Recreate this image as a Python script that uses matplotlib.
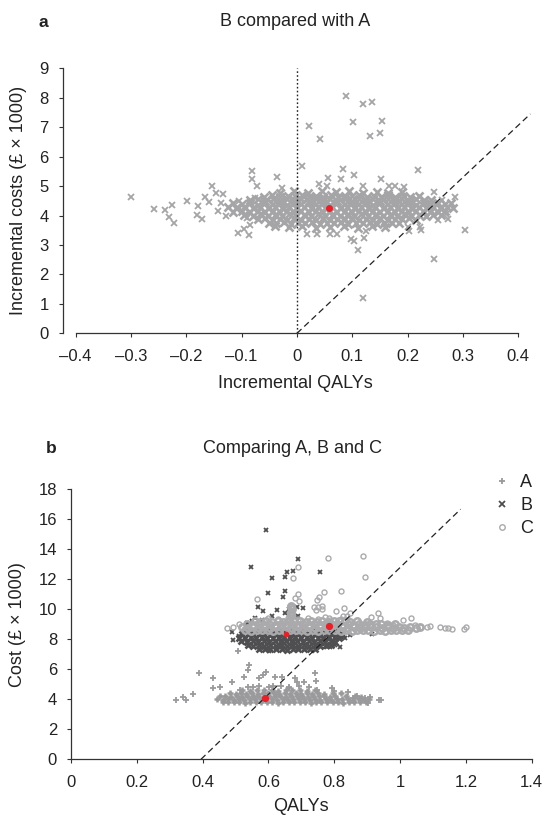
import numpy as np
import matplotlib
matplotlib.use("Agg")
import matplotlib.pyplot as plt

plt.rcParams["font.family"] = ["Liberation Sans", "DejaVu Sans"]

# ---- panel a: B compared with A (incremental QALYs, incremental cost in £1000)
# dense centre of the cloud
ba_core = [
    (-0.030, 4.78), (-0.005, 4.82), (0.020, 4.76), (0.045, 4.84), (0.070, 4.79), (0.095, 4.83),
    (0.120, 4.77), (0.145, 4.81), (0.165, 4.76), (0.190, 4.80),
    (-0.060, 4.64), (-0.045, 4.69), (-0.030, 4.62), (-0.017, 4.67), (-0.004, 4.65), (0.009, 4.70),
    (0.022, 4.63), (0.035, 4.68), (0.048, 4.64), (0.061, 4.69), (0.074, 4.62), (0.087, 4.67),
    (0.100, 4.65), (0.113, 4.70), (0.126, 4.63), (0.139, 4.68), (0.152, 4.64), (0.165, 4.69),
    (0.178, 4.62), (0.191, 4.67), (0.205, 4.64), (0.220, 4.66),
    (-0.085, 4.52), (-0.070, 4.56), (-0.057, 4.50), (-0.044, 4.55), (-0.031, 4.51), (-0.018, 4.57),
    (-0.005, 4.52), (0.008, 4.55), (0.021, 4.50), (0.034, 4.56), (0.047, 4.53), (0.060, 4.57),
    (0.073, 4.51), (0.086, 4.55), (0.099, 4.50), (0.112, 4.56), (0.125, 4.52), (0.138, 4.55),
    (0.151, 4.51), (0.164, 4.57), (0.177, 4.52), (0.190, 4.55), (0.203, 4.50), (0.216, 4.56),
    (0.229, 4.52), (0.242, 4.54),
    (-0.115, 4.41), (-0.100, 4.38), (-0.085, 4.43), (-0.070, 4.37), (-0.057, 4.42), (-0.044, 4.39),
    (-0.031, 4.43), (-0.018, 4.37), (-0.005, 4.41), (0.008, 4.38), (0.021, 4.43), (0.034, 4.39),
    (0.047, 4.42), (0.060, 4.37), (0.073, 4.41), (0.086, 4.38), (0.099, 4.43), (0.112, 4.39),
    (0.125, 4.42), (0.138, 4.37), (0.151, 4.41), (0.164, 4.38), (0.177, 4.43), (0.190, 4.39),
    (0.203, 4.42), (0.216, 4.37), (0.229, 4.41), (0.242, 4.38), (0.255, 4.42), (0.268, 4.39),
    (0.279, 4.41),
    (-0.125, 4.28), (-0.110, 4.25), (-0.095, 4.30), (-0.080, 4.24), (-0.066, 4.29), (-0.053, 4.26),
    (-0.040, 4.30), (-0.027, 4.24), (-0.014, 4.28), (-0.001, 4.25), (0.012, 4.30), (0.025, 4.26),
    (0.038, 4.29), (0.051, 4.24), (0.064, 4.28), (0.077, 4.25), (0.090, 4.30), (0.103, 4.26),
    (0.116, 4.29), (0.129, 4.24), (0.142, 4.28), (0.155, 4.25), (0.168, 4.30), (0.181, 4.26),
    (0.194, 4.29), (0.207, 4.24), (0.220, 4.28), (0.233, 4.25), (0.246, 4.29), (0.259, 4.26),
    (0.272, 4.28), (0.283, 4.24),
    (-0.115, 4.13), (-0.100, 4.16), (-0.085, 4.11), (-0.070, 4.15), (-0.057, 4.12), (-0.044, 4.17),
    (-0.031, 4.11), (-0.018, 4.15), (-0.005, 4.13), (0.008, 4.16), (0.021, 4.11), (0.034, 4.15),
    (0.047, 4.12), (0.060, 4.17), (0.073, 4.11), (0.086, 4.15), (0.099, 4.13), (0.112, 4.16),
    (0.125, 4.11), (0.138, 4.15), (0.151, 4.12), (0.164, 4.17), (0.177, 4.11), (0.190, 4.15),
    (0.203, 4.13), (0.216, 4.16), (0.229, 4.11), (0.242, 4.15), (0.255, 4.12), (0.268, 4.14),
    (-0.095, 4.02), (-0.080, 3.99), (-0.066, 4.04), (-0.053, 3.98), (-0.040, 4.03), (-0.027, 4.00),
    (-0.014, 4.04), (-0.001, 3.98), (0.012, 4.02), (0.025, 3.99), (0.038, 4.04), (0.051, 4.00),
    (0.064, 4.03), (0.077, 3.98), (0.090, 4.02), (0.103, 3.99), (0.116, 4.04), (0.129, 4.00),
    (0.142, 4.03), (0.155, 3.98), (0.168, 4.02), (0.181, 3.99), (0.194, 4.04), (0.207, 4.00),
    (0.220, 4.02), (0.233, 3.98), (0.246, 4.01), (0.260, 4.03),
    (-0.070, 3.87), (-0.057, 3.90), (-0.044, 3.85), (-0.031, 3.89), (-0.018, 3.86), (-0.005, 3.91),
    (0.008, 3.85), (0.021, 3.89), (0.034, 3.86), (0.047, 3.90), (0.060, 3.85), (0.073, 3.89),
    (0.086, 3.87), (0.099, 3.91), (0.112, 3.85), (0.125, 3.89), (0.138, 3.86), (0.151, 3.90),
    (0.164, 3.85), (0.177, 3.89), (0.190, 3.87), (0.203, 3.90), (0.216, 3.86),
    (-0.050, 3.76), (-0.037, 3.73), (-0.024, 3.77), (-0.011, 3.72), (0.002, 3.76), (0.015, 3.74),
    (0.028, 3.78), (0.041, 3.72), (0.054, 3.76), (0.067, 3.73), (0.080, 3.77), (0.093, 3.72),
    (0.106, 3.76), (0.119, 3.74), (0.132, 3.77), (0.145, 3.72), (0.158, 3.76), (0.171, 3.73),
    (0.184, 3.75),
    (-0.040, 3.63), (-0.015, 3.60), (0.010, 3.64), (0.035, 3.58), (0.060, 3.62), (0.085, 3.65),
    (0.110, 3.59), (0.135, 3.63), (0.160, 3.61),
]
# scattered points away from the centre
ba_outer = [
    (-0.300, 4.64), (-0.258, 4.23), (-0.238, 4.18), (-0.226, 4.37), (-0.231, 3.95), (-0.223, 3.76),
    (-0.199, 4.51), (-0.181, 4.01), (-0.178, 4.32), (-0.171, 3.88), (-0.167, 4.62), (-0.159, 4.46),
    (-0.154, 5.02), (-0.147, 4.78), (-0.142, 4.17), (-0.137, 4.43), (-0.134, 4.73), (-0.128, 3.98),
    (-0.107, 3.41), (-0.095, 3.53), (-0.086, 3.33), (-0.082, 5.51), (-0.081, 5.25), (-0.084, 3.67),
    (-0.072, 4.99), (-0.036, 5.32), (-0.027, 4.95), (0.010, 5.68), (0.022, 7.03), (0.041, 6.61),
    (0.088, 8.06), (0.120, 7.79), (0.135, 7.86), (0.102, 7.19), (0.153, 7.22), (0.133, 6.71),
    (0.150, 6.81), (0.083, 5.58), (0.104, 5.39), (0.219, 5.54), (0.152, 5.23), (0.247, 4.79),
    (0.285, 4.62), (0.304, 3.50), (0.247, 2.52), (0.120, 1.19), (0.111, 2.84), (0.098, 3.19),
    (0.104, 3.14), (0.124, 3.48), (0.122, 3.25), (0.274, 3.89), (0.225, 3.50), (0.202, 3.46),
    (0.073, 3.37), (0.059, 3.39), (0.037, 3.39), (0.018, 3.36), (0.178, 4.99), (0.193, 4.97),
    (0.057, 5.29), (0.054, 4.99), (0.039, 5.06), (0.080, 5.24), (0.119, 4.99), (0.166, 4.99),
    (0.235, 3.96), (0.223, 3.62), (0.262, 4.52), (0.255, 3.85), (-0.090, 3.92), (-0.075, 4.60),
    (-0.105, 4.50), (0.200, 3.60), (0.270, 4.05),
]
ba_mean = (0.058, 4.24)
a_threshold_q = [0.0, 0.422]
a_threshold_c = [0.0, 7.45]
a_xticks = [-0.4, -0.3, -0.2, -0.1, 0, 0.1, 0.2, 0.3, 0.4]
a_xticklabels = ["–0.4", "–0.3", "–0.2", "–0.1", "0", "0.1", "0.2", "0.3", "0.4"]
a_yticks = [0, 1, 2, 3, 4, 5, 6, 7, 8, 9]

# ---- panel b: A, B and C (QALYs, cost in £1000)
a_core = [
    (0.462, 3.80), (0.478, 3.84), (0.495, 3.79), (0.511, 3.83), (0.528, 3.78), (0.545, 3.82),
    (0.561, 3.79), (0.578, 3.84), (0.595, 3.80), (0.611, 3.83), (0.628, 3.78), (0.645, 3.82),
    (0.661, 3.80), (0.678, 3.84), (0.695, 3.79), (0.711, 3.83), (0.728, 3.78), (0.745, 3.82),
    (0.761, 3.80), (0.778, 3.84), (0.795, 3.79), (0.811, 3.83), (0.828, 3.78), (0.845, 3.82),
    (0.861, 3.80), (0.878, 3.84), (0.895, 3.81),
    (0.445, 4.01), (0.461, 3.97), (0.478, 4.03), (0.494, 3.98), (0.511, 4.02), (0.527, 3.97),
    (0.544, 4.03), (0.560, 3.99), (0.577, 4.02), (0.593, 3.97), (0.610, 4.03), (0.626, 3.98),
    (0.643, 4.02), (0.659, 3.97), (0.676, 4.03), (0.692, 3.99), (0.709, 4.02), (0.725, 3.97),
    (0.742, 4.03), (0.758, 3.98), (0.775, 4.02), (0.791, 3.97), (0.808, 4.03), (0.824, 3.99),
    (0.841, 4.02), (0.857, 3.97), (0.874, 4.03), (0.890, 3.98), (0.906, 4.01),
    (0.452, 4.19), (0.469, 4.23), (0.486, 4.18), (0.503, 4.22), (0.519, 4.17), (0.536, 4.23),
    (0.553, 4.19), (0.569, 4.22), (0.586, 4.18), (0.603, 4.23), (0.619, 4.19), (0.636, 4.22),
    (0.653, 4.17), (0.669, 4.23), (0.686, 4.19), (0.703, 4.22), (0.719, 4.18), (0.736, 4.23),
    (0.753, 4.19), (0.769, 4.21), (0.786, 4.17), (0.803, 4.22), (0.836, 4.19), (0.862, 4.22),
    (0.880, 4.18),
    (0.483, 4.41), (0.500, 4.37), (0.517, 4.42), (0.533, 4.38), (0.550, 4.43), (0.567, 4.37),
    (0.583, 4.42), (0.600, 4.39), (0.617, 4.43), (0.633, 4.37), (0.650, 4.41), (0.667, 4.38),
    (0.683, 4.43), (0.700, 4.37), (0.717, 4.42), (0.733, 4.38), (0.750, 4.41), (0.770, 4.37),
    (0.795, 4.42), (0.822, 4.39),
    (0.520, 4.62), (0.545, 4.58), (0.565, 4.63), (0.588, 4.59), (0.610, 4.64), (0.630, 4.58),
    (0.652, 4.62), (0.672, 4.59), (0.695, 4.63), (0.718, 4.58), (0.742, 4.61),
]
a_outer = [
    (0.538, 4.82), (0.571, 4.87), (0.602, 4.80), (0.637, 4.90), (0.661, 4.84), (0.694, 4.86),
    (0.724, 4.81),
    (0.318, 3.96), (0.340, 4.13), (0.350, 3.96), (0.372, 4.36), (0.389, 5.78), (0.431, 5.42),
    (0.453, 4.84), (0.488, 5.13), (0.509, 7.22), (0.537, 5.96), (0.541, 6.31), (0.527, 5.47),
    (0.571, 5.40), (0.584, 5.62), (0.593, 5.80), (0.620, 5.51), (0.640, 5.47), (0.686, 5.13),
    (0.709, 5.13), (0.742, 5.78), (0.745, 5.24), (0.747, 4.62), (0.792, 4.73), (0.798, 4.56),
    (0.843, 4.51), (0.858, 4.11), (0.868, 4.22), (0.894, 4.11), (0.909, 4.18), (0.902, 3.78),
    (0.937, 3.96), (0.941, 3.96), (0.681, 5.40), (0.664, 4.73), (0.615, 4.89), (0.554, 4.84),
    (0.514, 4.62), (0.433, 4.73),
]
b_core = [
    (0.572, 7.36), (0.589, 7.32), (0.606, 7.38), (0.623, 7.33), (0.640, 7.37), (0.657, 7.31),
    (0.674, 7.36), (0.691, 7.33), (0.708, 7.38), (0.725, 7.32), (0.742, 7.36),
    (0.537, 7.61), (0.554, 7.57), (0.571, 7.63), (0.588, 7.58), (0.605, 7.62), (0.622, 7.56),
    (0.639, 7.61), (0.656, 7.58), (0.673, 7.63), (0.690, 7.57), (0.707, 7.62), (0.724, 7.58),
    (0.741, 7.63), (0.758, 7.57), (0.775, 7.61), (0.789, 7.59),
    (0.518, 7.86), (0.535, 7.82), (0.552, 7.88), (0.569, 7.83), (0.586, 7.87), (0.603, 7.81),
    (0.620, 7.86), (0.637, 7.83), (0.654, 7.88), (0.671, 7.82), (0.688, 7.87), (0.705, 7.83),
    (0.722, 7.88), (0.739, 7.82), (0.756, 7.86), (0.773, 7.83), (0.790, 7.87), (0.803, 7.84),
    (0.512, 8.11), (0.529, 8.07), (0.546, 8.13), (0.563, 8.08), (0.580, 8.12), (0.597, 8.06),
    (0.614, 8.11), (0.631, 8.08), (0.648, 8.13), (0.665, 8.07), (0.682, 8.12), (0.699, 8.08),
    (0.716, 8.13), (0.733, 8.07), (0.750, 8.11), (0.767, 8.08), (0.784, 8.12), (0.801, 8.07),
    (0.815, 8.10),
    (0.520, 8.36), (0.537, 8.32), (0.554, 8.38), (0.571, 8.33), (0.588, 8.37), (0.605, 8.31),
    (0.622, 8.36), (0.639, 8.33), (0.656, 8.38), (0.673, 8.32), (0.690, 8.37), (0.707, 8.33),
    (0.724, 8.38), (0.741, 8.32), (0.758, 8.36), (0.775, 8.33), (0.792, 8.37), (0.809, 8.32),
    (0.825, 8.35),
    (0.530, 8.57), (0.550, 8.53), (0.570, 8.58), (0.590, 8.54), (0.610, 8.57), (0.630, 8.53),
    (0.650, 8.58), (0.670, 8.54), (0.690, 8.57), (0.710, 8.53), (0.730, 8.58), (0.750, 8.54),
    (0.770, 8.57), (0.790, 8.53), (0.810, 8.56),
]
b_outer = [
    (0.593, 15.27), (0.547, 12.84), (0.610, 12.07), (0.689, 13.33), (0.656, 12.51), (0.674, 12.56),
    (0.651, 12.13), (0.758, 12.51), (0.600, 11.11), (0.651, 11.24), (0.644, 10.84), (0.569, 10.18),
    (0.583, 9.89), (0.625, 9.96), (0.686, 10.13), (0.706, 10.07), (0.611, 9.56), (0.691, 9.56),
    (0.651, 9.73), (0.580, 9.29), (0.534, 9.07), (0.489, 8.49), (0.491, 7.96), (0.510, 8.24),
    (0.915, 8.33), (0.848, 8.29), (0.823, 8.07), (0.833, 8.07), (0.802, 7.62), (0.818, 7.51),
    (0.779, 7.47), (0.787, 7.47), (0.805, 8.18), (0.603, 7.22), (0.663, 10.00), (0.550, 9.20),
    (0.560, 9.40),
]
c_core = [
    (0.530, 8.62), (0.547, 8.58), (0.564, 8.63), (0.581, 8.59), (0.598, 8.62), (0.615, 8.57),
    (0.632, 8.63), (0.649, 8.58), (0.666, 8.62), (0.683, 8.59), (0.700, 8.63), (0.717, 8.57),
    (0.734, 8.62), (0.751, 8.58), (0.768, 8.63), (0.785, 8.59), (0.802, 8.62), (0.819, 8.57),
    (0.836, 8.63), (0.853, 8.58), (0.870, 8.62), (0.887, 8.59), (0.904, 8.63), (0.921, 8.57),
    (0.938, 8.62), (0.955, 8.58), (0.972, 8.63), (0.989, 8.59), (1.006, 8.62), (1.025, 8.60),
    (0.520, 8.81), (0.537, 8.77), (0.554, 8.83), (0.571, 8.78), (0.588, 8.82), (0.605, 8.77),
    (0.622, 8.83), (0.639, 8.79), (0.656, 8.82), (0.673, 8.77), (0.690, 8.83), (0.707, 8.78),
    (0.724, 8.82), (0.741, 8.77), (0.758, 8.83), (0.775, 8.79), (0.792, 8.82), (0.809, 8.77),
    (0.826, 8.83), (0.843, 8.78), (0.860, 8.82), (0.877, 8.77), (0.894, 8.83), (0.911, 8.79),
    (0.928, 8.82), (0.945, 8.77), (0.962, 8.83), (0.979, 8.78), (0.996, 8.82), (1.013, 8.77),
    (1.030, 8.81), (1.047, 8.78), (1.060, 8.80),
    (0.535, 9.01), (0.552, 8.97), (0.569, 9.03), (0.586, 8.98), (0.603, 9.02), (0.620, 8.97),
    (0.637, 9.03), (0.654, 8.99), (0.671, 9.02), (0.688, 8.97), (0.705, 9.03), (0.722, 8.98),
    (0.739, 9.02), (0.756, 8.97), (0.773, 9.03), (0.790, 8.99), (0.807, 9.02), (0.824, 8.97),
    (0.841, 9.03), (0.858, 8.98), (0.875, 9.02), (0.892, 8.97), (0.909, 9.03), (0.926, 8.99),
    (0.943, 9.02), (0.962, 8.98), (0.985, 9.01),
    (0.560, 9.21), (0.577, 9.17), (0.594, 9.23), (0.611, 9.18), (0.628, 9.22), (0.645, 9.17),
    (0.662, 9.23), (0.679, 9.19), (0.696, 9.22), (0.713, 9.17), (0.730, 9.23), (0.747, 9.18),
    (0.764, 9.22), (0.781, 9.17), (0.798, 9.23), (0.815, 9.19), (0.832, 9.22), (0.849, 9.17),
    (0.870, 9.21), (0.900, 9.18),
    (0.668, 9.55), (0.670, 9.70), (0.668, 9.85), (0.671, 10.00), (0.669, 10.15), (0.670, 10.25),
]
c_outer = [
    (0.600, 9.41), (0.630, 9.37), (0.660, 9.42), (0.690, 9.38), (0.720, 9.41), (0.750, 9.37),
    (0.785, 9.42), (0.820, 9.38),
    (0.887, 13.56), (0.782, 13.44), (0.894, 12.13), (0.689, 12.84), (0.676, 12.07), (0.820, 11.24),
    (0.769, 11.18), (0.564, 10.67), (0.689, 11.02), (0.682, 10.73), (0.694, 10.56), (0.747, 10.62),
    (0.755, 10.84), (0.739, 10.18), (0.752, 10.18), (0.762, 10.24), (0.744, 9.96), (0.762, 10.00),
    (0.804, 9.91), (0.830, 10.11), (0.826, 9.58), (0.838, 9.58), (0.848, 9.73), (0.912, 9.47),
    (0.934, 9.78), (0.939, 9.40), (1.010, 9.29), (1.033, 9.40), (1.046, 8.96), (1.061, 8.84),
    (1.081, 8.84), (1.091, 8.91), (1.122, 8.80), (1.137, 8.73), (1.147, 8.78), (1.157, 8.69),
    (1.195, 8.67), (1.201, 8.84), (0.473, 8.73), (0.491, 8.84), (0.512, 9.00), (0.772, 9.51),
    (0.787, 9.29), (0.959, 9.11), (0.980, 8.96),
]
strat_means = {"A": (0.590, 4.07), "B": (0.653, 8.33), "C": (0.783, 8.87)}
b_threshold_q = [0.395, 1.184]
b_threshold_c = [0.0, 16.67]
b_xticks = [0, 0.2, 0.4, 0.6, 0.8, 1.0, 1.2, 1.4]
b_xticklabels = ["0", "0.2", "0.4", "0.6", "0.8", "1", "1.2", "1.4"]
b_yticks = [0, 2, 4, 6, 8, 10, 12, 14, 16, 18]

# colours
grey_light = "#a5a5a8"
grey_a = "#9a9a9c"
grey_dark = "#4f4f51"
grey_c = "#aaaaad"
red = "#e8202a"
txt = "#222222"


def style_axes(ax):
    for side in ("top", "right"):
        ax.spines[side].set_visible(False)
    for side in ("left", "bottom"):
        ax.spines[side].set_color("#333333")
        ax.spines[side].set_linewidth(0.9)
    ax.tick_params(direction="out", length=3, width=0.8, color="#333333",
                   labelcolor=txt, labelsize=12)
    ax.tick_params(axis="x", pad=8)
    ax.tick_params(axis="y", pad=7)


def pts(lst):
    arr = np.array(lst)
    return arr[:, 0], arr[:, 1]


fig = plt.figure(figsize=(5.47, 8.19), dpi=100)

# ---------------- panel a
ax1 = fig.add_axes([0.1146, 0.5930, 0.858, 0.3236])
ax1.plot(*pts(ba_core), ls="none", marker="x", ms=5.2, mew=1.9, color=grey_light, zorder=2)
ax1.plot(*pts(ba_outer), ls="none", marker="x", ms=3.7, mew=1.3, color=grey_light, zorder=2)
ax1.plot([0, 0], [0, 9], color="#222222", ls=(0, (1.2, 1.6)), lw=1.0, zorder=3)
ax1.plot(a_threshold_q, a_threshold_c, color="#222222", ls=(0, (5, 3)), lw=0.9, zorder=3)
ax1.plot(*ba_mean, ls="none", marker="o", ms=4, color=red, zorder=4)
ax1.set_xlim(-0.4235, 0.425)
ax1.set_ylim(0, 9)
ax1.spines["bottom"].set_bounds(-0.4, 0.4)
ax1.set_xticks(a_xticks)
ax1.set_xticklabels(a_xticklabels)
ax1.set_yticks(a_yticks)
style_axes(ax1)
ax1.set_xlabel("Incremental QALYs", fontsize=13, color=txt)
ax1.set_ylabel("Incremental costs (£ × 1000)", fontsize=13, color=txt)
ax1.xaxis.set_label_coords(0.496, -0.158)
ax1.yaxis.set_label_coords(-0.076, 0.5)

# ---------------- panel b
ax2 = fig.add_axes([0.1298, 0.0729, 0.8422, 0.3297])
ax2.plot(*pts(a_core), ls="none", marker="+", ms=5.0, mew=1.8, color=grey_a, zorder=2)
ax2.plot(*pts(a_outer), ls="none", marker="+", ms=4.0, mew=1.3, color=grey_a, label="A", zorder=2)
ax2.plot(*pts(b_core), ls="none", marker="x", ms=4.8, mew=1.9, color=grey_dark, zorder=2)
ax2.plot(*pts(b_outer), ls="none", marker="x", ms=3.5, mew=1.3, color=grey_dark, label="B", zorder=2)
ax2.plot(*pts(c_core), ls="none", marker="o", ms=4.6, mew=1.8, mfc="none", mec=grey_c, zorder=2)
ax2.plot(*pts(c_outer), ls="none", marker="o", ms=3.6, mew=1.0, mfc="none", mec=grey_c,
         label="C", zorder=2)
ax2.plot(b_threshold_q, b_threshold_c, color="#222222", ls=(0, (5, 3)), lw=0.9, zorder=3)
for key, size in zip(["A", "B", "C"], [4.2, 3.0, 4.2]):
    ax2.plot(*strat_means[key], ls="none", marker="o", ms=size, color=red, zorder=4)
ax2.set_xlim(0, 1.4)
ax2.set_ylim(0, 18)
ax2.set_xticks(b_xticks)
ax2.set_xticklabels(b_xticklabels)
ax2.set_yticks(b_yticks)
style_axes(ax2)
ax2.set_xlabel("QALYs", fontsize=13, color=txt)
ax2.set_ylabel("Cost (£ × 1000)", fontsize=13, color=txt)
ax2.xaxis.set_label_coords(0.5, -0.145)
ax2.yaxis.set_label_coords(-0.098, 0.5)

leg = ax2.legend(loc="upper right", bbox_to_anchor=(0.975, 0.421), bbox_transform=fig.transFigure,
                 frameon=False, fontsize=13, handlelength=0.8, handletextpad=0.6,
                 labelspacing=0.33, borderpad=0, borderaxespad=0, markerscale=1.1)
for t in leg.get_texts():
    t.set_color(txt)

# panel letters and titles
fig.text(0.080, 0.972, "a", fontsize=12.5, fontweight="bold", color=txt, ha="center", va="center")
fig.text(0.540, 0.974, "B compared with A", fontsize=13, color=txt, ha="center", va="center")
fig.text(0.094, 0.452, "b", fontsize=12.5, fontweight="bold", color=txt, ha="center", va="center")
fig.text(0.534, 0.452, "Comparing A, B and C", fontsize=13, color=txt, ha="center", va="center")

fig.savefig("out.png", dpi=100)
